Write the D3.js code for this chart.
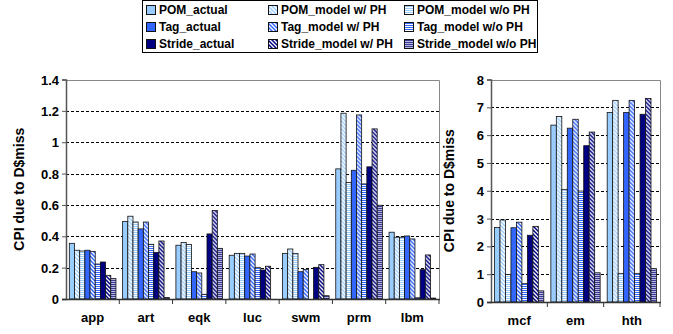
<!DOCTYPE html>
<html>
<head>
<meta charset="utf-8">
<script src="https://cdn.jsdelivr.net/npm/d3@7"></script>
<style>
  body { margin: 0; background: #fff; }
  svg text { font-family: "Liberation Sans", Arial, sans-serif; font-weight: bold; fill: #000; }
</style>
</head>
<body>
<svg width="673" height="334"></svg>
<script>
// benchmarks: first 7 in the left panel, last 3 in the right one
const leftCats = ["app", "art", "eqk", "luc", "swm", "prm", "lbm"]
const rightCats = ["mcf", "em", "hth"]

const seriesNames = [
  "POM_actual", "POM_model w/ PH", "POM_model w/o PH",
  "Tag_actual", "Tag_model w/ PH", "Tag_model w/o PH",
  "Stride_actual", "Stride_model w/ PH", "Stride_model w/o PH"
]

// values per series, ordered app..lbm, mcf, em, hth
const pomActual       = [0.355, 0.494, 0.343, 0.279, 0.291, 0.830, 0.426, 2.68, 6.36, 6.81]
const pomModelPH      = [0.311, 0.528, 0.360, 0.291, 0.319, 1.185, 0.394, 2.95, 6.67, 7.25]
const pomModelNoPH    = [0.306, 0.491, 0.347, 0.291, 0.291, 0.743, 0.394, 0.99, 4.05, 1.03]
const tagActual       = [0.311, 0.447, 0.174, 0.274, 0.174, 0.821, 0.402, 2.67, 6.25, 6.81]
const tagModelPH      = [0.304, 0.491, 0.166, 0.287, 0.189, 1.174, 0.383, 2.87, 6.57, 7.25]
const tagModelNoPH    = [0.223, 0.349, 0.030, 0.202, 0.000, 0.734, 0.008, 0.66, 3.99, 1.03]
const strideActual    = [0.236, 0.296, 0.415, 0.185, 0.202, 0.843, 0.187, 2.40, 5.62, 6.75]
const strideModelPH   = [0.151, 0.370, 0.564, 0.209, 0.219, 1.085, 0.281, 2.72, 6.11, 7.32]
const strideModelNoPH = [0.130, 0.010, 0.323, 0.000, 0.021, 0.598, 0.006, 0.40, 1.05, 1.20]

const leftTicks = [0, 0.2, 0.4, 0.6, 0.8, 1, 1.2, 1.4]
const rightTicks = [0, 1, 2, 3, 4, 5, 6, 7, 8]

const allSeries = [pomActual, pomModelPH, pomModelNoPH, tagActual, tagModelPH,
  tagModelNoPH, strideActual, strideModelPH, strideModelNoPH]

const colors = ["#99ccff", "#3366ff", "#000080"]

const svg = d3.select("svg")
const defs = svg.append("defs")

// fills: solid, diagonal hatch, horizontal stripes for each family
function fillFor(i) {
  if (i % 3 === 0) return colors[Math.floor(i / 3)]
  return `url(#pat${i})`
}

allSeries.forEach((s, i) => {
  const fam = Math.floor(i / 3), kind = i % 3
  if (kind === 0) return
  if (kind === 1) {
    const p = defs.append("pattern")
      .attr("id", "pat" + i)
      .attr("patternUnits", "userSpaceOnUse")
      .attr("width", 4).attr("height", 4)
    p.append("rect").attr("width", 4).attr("height", 4).attr("fill", "#fff")
    p.append("path")
      .attr("d", "M-1,-1L5,5M-1,3L1,5M3,-1L5,1")
      .attr("stroke", colors[fam])
      .attr("stroke-width", fam === 0 ? 1.3 : 1.5)
  } else {
    const p = defs.append("pattern")
      .attr("id", "pat" + i)
      .attr("patternUnits", "userSpaceOnUse")
      .attr("width", 4).attr("height", 2)
    p.append("rect").attr("width", 4).attr("height", 2).attr("fill", fam === 2 ? "#b8b8dc" : "#fff")
    p.append("rect").attr("width", 4).attr("height", 1).attr("fill", fam === 2 ? "#3a3a94" : colors[fam])
  }
})

function drawPanel(cats, offset, x0, x1, yBottom, yTop, maxVal, ticks, fmt, titleX) {
  const x = d3.scaleBand().domain(cats).range([x0, x1]).padding(0)
  const y = d3.scaleLinear().domain([0, maxVal]).range([yBottom, yTop])
  const gap = x.bandwidth() * 0.0625
  const inner = d3.scaleBand().domain(d3.range(9)).range([gap, x.bandwidth() - gap]).padding(0)

  const g = svg.append("g")

  // grid lines
  g.selectAll("line.grid")
    .data(ticks.filter(t => t > 0 && t < maxVal))
    .enter()
    .append("line")
    .attr("x1", x0).attr("x2", x1)
    .attr("y1", d => Math.round(y(d)) + 0.5).attr("y2", d => Math.round(y(d)) + 0.5)
    .attr("stroke", "#000").attr("stroke-width", 1)
    .attr("stroke-dasharray", "3,2")

  // plot border, top and right
  g.append("path")
    .attr("d", `M${x0},${Math.round(yTop) + 0.5}H${x1 + 0.5}V${yBottom}`)
    .attr("fill", "none").attr("stroke", "#888").attr("stroke-width", 1)

  // bars
  const groups = g.selectAll("g.cat")
    .data(cats.map((c, ci) => ({ cat: c, vals: allSeries.map(s => s[ci + offset]) })))
    .enter()
    .append("g")
    .attr("transform", d => `translate(${x(d.cat)},0)`)

  groups.selectAll("rect")
    .data(d => d.vals.map((v, i) => ({ v, i })).filter(e => e.v > 0))
    .enter()
    .append("rect")
    .attr("x", d => inner(d.i))
    .attr("width", inner.bandwidth())
    .attr("y", d => y(d.v))
    .attr("height", d => y(0) - y(d.v))
    .attr("fill", d => fillFor(d.i))
    .attr("stroke", "#111").attr("stroke-width", 0.8)

  // y axis
  const yAxis = d3.axisLeft(y).tickValues(ticks).tickSize(4).tickFormat(fmt)
  const ya = g.append("g").attr("transform", `translate(${x0},0)`).call(yAxis)
  ya.select(".domain").attr("stroke", "#555").attr("stroke-width", 1.5)
  ya.selectAll(".tick line").attr("stroke", "#555")
  ya.selectAll("text").attr("font-size", 13).attr("x", -7).attr("dy", "0.35em")

  // x axis with ticks between categories
  g.append("line")
    .attr("x1", x0 - 4).attr("x2", x1 + 1)
    .attr("y1", yBottom + 0.5).attr("y2", yBottom + 0.5)
    .attr("stroke", "#333").attr("stroke-width", 1.5)
  g.selectAll("line.xt")
    .data(cats.slice(1).concat(["_end"]))
    .enter()
    .append("line")
    .attr("x1", d => d === "_end" ? x1 : x(d)).attr("x2", d => d === "_end" ? x1 : x(d))
    .attr("y1", yBottom).attr("y2", yBottom + 5)
    .attr("stroke", "#333")
  g.selectAll("text.xl")
    .data(cats)
    .enter()
    .append("text")
    .attr("x", d => x(d) + x.bandwidth() / 2)
    .attr("y", yBottom + 23)
    .attr("text-anchor", "middle")
    .attr("font-size", 13)
    .text(d => d)

  g.append("text")
    .attr("transform", `translate(${titleX},${(yTop + yBottom) / 2}) rotate(-90)`)
    .attr("text-anchor", "middle")
    .attr("font-size", 14)
    .text("CPI due to D$miss")
}

drawPanel(leftCats, 0, 66, 439, 299, 79.5, 1.4, leftTicks, d3.format("~g"), 24)
drawPanel(rightCats, 7, 491, 660, 302, 79.5, 8, rightTicks, d3.format("d"), 454)

// legend
const legend = svg.append("g")
legend.append("rect")
  .attr("x", 142.5).attr("y", 0.5).attr("width", 395).attr("height", 52)
  .attr("fill", "#fff").attr("stroke", "#000").attr("stroke-width", 1)

const colX = [146, 268, 404]
const rowY = [10, 27, 44]
const items = legend.selectAll("g.item")
  .data(seriesNames)
  .enter()
  .append("g")
  .attr("transform", (d, i) => `translate(${colX[i % 3]},${rowY[Math.floor(i / 3)]})`)

items.append("rect")
  .attr("x", 0.5).attr("y", -4.5).attr("width", 9).attr("height", 9)
  .attr("fill", (d, i) => fillFor(i))
  .attr("stroke", "#111")
items.append("text")
  .attr("x", 13).attr("y", 0).attr("dy", "0.36em")
  .attr("font-size", 12)
  .text(d => d)
</script>
</body>
</html>
